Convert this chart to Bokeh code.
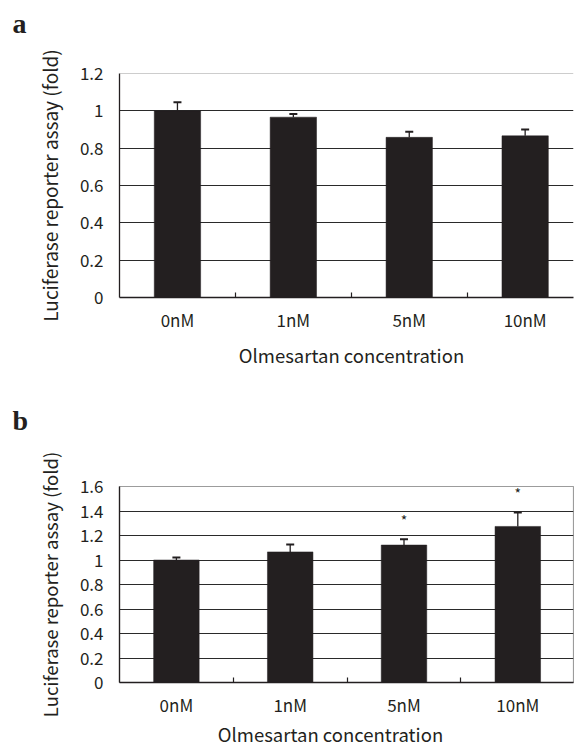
from bokeh.plotting import figure
from bokeh.models import ColumnDataSource, FixedTicker, Whisker, TeeHead, Range1d, Span
from bokeh.layouts import column
from bokeh.embed import file_html
from bokeh.resources import INLINE
from bokeh.core.properties import value

# ---- data ----
categories = ["0nM", "1nM", "5nM", "10nM"]

a_values = [1.0, 0.966, 0.858, 0.866]
a_errors = [0.046, 0.017, 0.030, 0.034]
a_marks = ["", "", "", ""]
a_yticks = [0, 0.2, 0.4, 0.6, 0.8, 1.0, 1.2]
a_ylabels = ["0", "0.2", "0.4", "0.6", "0.8", "1", "1.2"]

b_values = [1.0, 1.066, 1.122, 1.274]
b_errors = [0.020, 0.061, 0.047, 0.114]
b_marks = ["", "", "*", "*"]
b_yticks = [0, 0.2, 0.4, 0.6, 0.8, 1.0, 1.2, 1.4, 1.6]
b_ylabels = ["0", "0.2", "0.4", "0.6", "0.8", "1", "1.2", "1.4", "1.6"]

x_title = "Olmesartan concentration"
y_title = "Luciferase reporter assay (fold)"
letters = ["a", "b"]

FONT = "Noto Sans CJK JP"
SERIF = "Liberation Serif"
INK = "#231f20"
W = 574
LEFT = 119
RIGHT = 1


def base_strip(height, **kw):
    p = figure(width=W, height=height, output_backend="svg", toolbar_location=None,
               x_axis_type=None, y_axis_type=None,
               min_border_left=LEFT, min_border_right=RIGHT, **kw)
    p.outline_line_color = None
    p.grid.visible = False
    return p


def letter_strip(height, letter, top):
    """Panel letter drawn as a left-aligned title hanging left of the frame."""
    p = base_strip(height, title=letter, min_border_top=top, min_border_bottom=0)
    t = p.title
    t.align = "left"
    t.offset = 12 - LEFT
    t.vertical_align = "bottom"
    t.standoff = 0
    t.text_font = SERIF
    t.text_font_size = "28px"
    t.text_font_style = "bold"
    t.text_color = INK
    return p


def title_strip(height, cx, y):
    """Axis title drawn as text in a strip whose data units are page pixels."""
    p = base_strip(height, x_range=Range1d(LEFT, W - RIGHT), y_range=Range1d(height, 0),
                   min_border_top=0, min_border_bottom=0)
    p.text(x=[cx], y=[y], text=[x_title], text_font=value(FONT),
           text_font_size="18.5px", text_color=INK, text_align="center",
           text_baseline="alphabetic")
    return p


def panel(values, errors, marks, yticks, ylabels, height, b_top, b_bottom,
          px_per_cat, outline, ylab_size):
    xs = list(range(len(categories)))
    upper = [v + e for v, e in zip(values, errors)]
    src = ColumnDataSource(dict(x=xs, value=values, upper=upper, mark=marks))
    x_end = -0.5 + (W - LEFT - RIGHT) / px_per_cat
    p = figure(width=W, height=height, output_backend="svg", toolbar_location=None,
               x_range=Range1d(-0.5, x_end), y_range=Range1d(0, yticks[-1]),
               min_border_left=LEFT, min_border_right=RIGHT,
               min_border_top=b_top, min_border_bottom=b_bottom)
    p.background_fill_color = "white"
    p.border_fill_color = "white"
    if outline:
        p.outline_line_color = "#9c9c9c"
        p.outline_line_width = 1.2
    else:
        p.outline_line_color = None
        p.add_layout(Span(location=yticks[-1], dimension="width",
                          line_color="#9c9c9c", line_width=1.2))

    p.vbar(x="x", top="value", width=0.4, bottom=0, source=src,
           fill_color=INK, line_color=INK, line_width=0.5)
    p.add_layout(Whisker(base="x", upper="upper", lower="value", source=src,
                         line_color=INK, line_width=1.3,
                         upper_head=TeeHead(size=8, line_color=INK, line_width=2),
                         lower_head=None))
    p.text(x="x", y="upper", text="mark", source=src, text_align="center",
           text_baseline="middle", y_offset=-19, text_font=value(FONT),
           text_font_size="14px", text_color=INK)

    # grid
    p.xgrid.visible = False
    p.ygrid.ticker = FixedTicker(ticks=yticks[1:-1])
    p.ygrid.grid_line_color = "#2a2a2a"
    p.ygrid.grid_line_width = 1

    # x axis: labels at bar centres, small inward ticks between categories
    xa = p.xaxis[0]
    xa.ticker = FixedTicker(ticks=xs, minor_ticks=[i + 0.5 for i in xs[:-1]])
    xa.major_label_overrides = {i: c for i, c in zip(xs, categories)}
    xa.major_tick_in = 0
    xa.major_tick_out = 0
    xa.minor_tick_in = 5
    xa.minor_tick_out = 0
    xa.minor_tick_line_color = INK
    xa.minor_tick_line_width = 1.2
    xa.axis_line_color = INK
    xa.axis_line_width = 1.3
    xa.major_label_standoff = 9
    xa.major_label_text_font = FONT
    xa.major_label_text_font_size = "17px"
    xa.major_label_text_color = INK

    # y axis
    ya = p.yaxis[0]
    ya.ticker = FixedTicker(ticks=yticks)
    ya.major_label_overrides = {t: l for t, l in zip(yticks, ylabels)}
    ya.major_tick_in = 0
    ya.major_tick_out = 0
    ya.minor_tick_line_color = None
    ya.axis_line_color = INK
    ya.axis_line_width = 1.3
    ya.major_label_standoff = 16
    ya.major_label_text_font = FONT
    ya.major_label_text_font_size = "17px"
    ya.major_label_text_color = INK
    ya.axis_label = y_title
    ya.axis_label_text_font = FONT
    ya.axis_label_text_font_size = ylab_size
    ya.axis_label_text_font_style = "normal"
    ya.axis_label_text_color = INK
    ya.axis_label_standoff = 14
    return p


head_a = letter_strip(45, letters[0], top=38)
pa = panel(a_values, a_errors, a_marks, a_yticks, a_ylabels,
           height=295, b_top=28, b_bottom=43, px_per_cat=115.9, outline=False,
           ylab_size="19px")
title_a = title_strip(40, 351, 14)
head_b = letter_strip(65, letters[1], top=55)
pb = panel(b_values, b_errors, b_marks, b_yticks, b_ylabels,
           height=274, b_top=41, b_bottom=35, px_per_cat=113.8, outline=True,
           ylab_size="18.5px")
title_b = title_strip(28, 330, 14)

layout = column(head_a, pa, title_a, head_b, pb, title_b, spacing=0)
open("out.html", "w").write(file_html(layout, INLINE))
